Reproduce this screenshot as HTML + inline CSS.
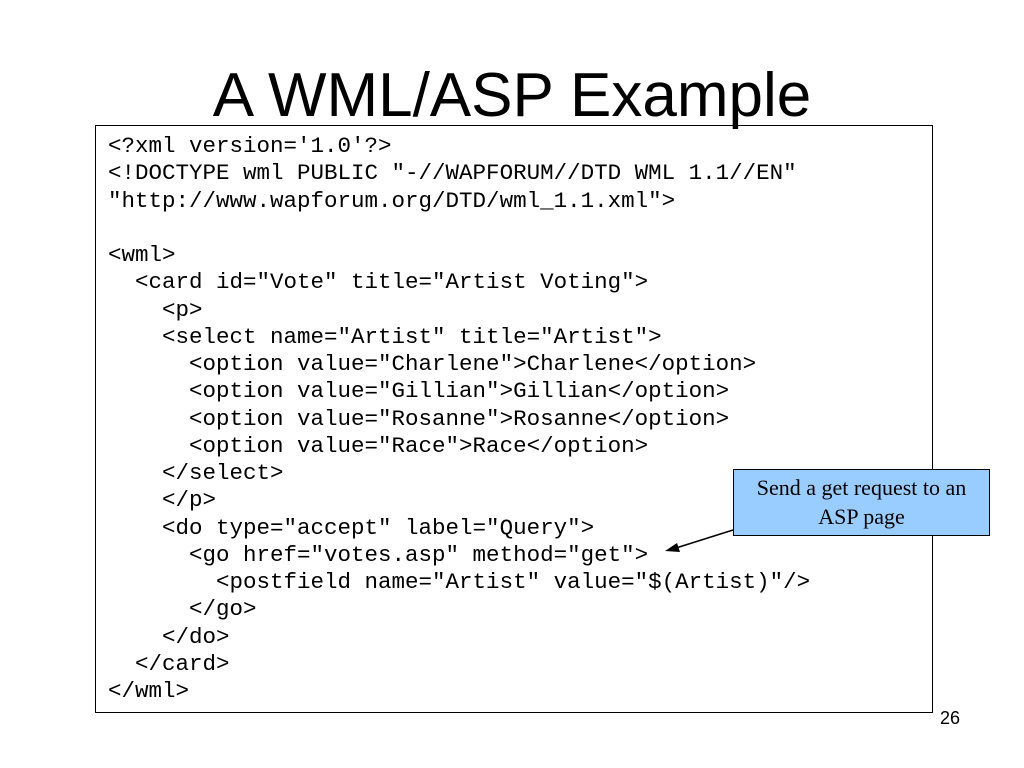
<!DOCTYPE html>
<html><head><meta charset="utf-8"><style>
body{margin:0;width:1024px;height:768px;background:#fff;position:relative;overflow:hidden}
.t{position:absolute;left:0;width:1024px;top:60px;text-align:center;font:62px/72px "Liberation Sans",sans-serif;color:#000}
.box{position:absolute;left:95px;top:125px;width:838px;height:588px;border:1px solid #000;box-sizing:border-box}
pre{position:absolute;left:108px;top:133px;margin:0;font:22.5px/27.25px "Liberation Mono",monospace;color:#000}
.c{position:absolute;left:733px;top:469px;width:257px;height:67px;background:#99ccff;border:1px solid #000;box-sizing:border-box;text-align:center;font:22px/29px "Liberation Serif",serif;padding-top:3px;white-space:nowrap}
.n{position:absolute;left:940px;top:708px;font:18px "Liberation Sans",sans-serif}
</style></head><body>
<div class="t">A WML/ASP Example</div>
<div class="box"></div>
<pre>&lt;?xml version='1.0'?&gt;
&lt;!DOCTYPE wml PUBLIC "-//WAPFORUM//DTD WML 1.1//EN"
"http://www.wapforum.org/DTD/wml_1.1.xml"&gt;

&lt;wml&gt;
  &lt;card id="Vote" title="Artist Voting"&gt;
    &lt;p&gt;
    &lt;select name="Artist" title="Artist"&gt;
      &lt;option value="Charlene"&gt;Charlene&lt;/option&gt;
      &lt;option value="Gillian"&gt;Gillian&lt;/option&gt;
      &lt;option value="Rosanne"&gt;Rosanne&lt;/option&gt;
      &lt;option value="Race"&gt;Race&lt;/option&gt;
    &lt;/select&gt;
    &lt;/p&gt;
    &lt;do type="accept" label="Query"&gt;
      &lt;go href="votes.asp" method="get"&gt;
        &lt;postfield name="Artist" value="$(Artist)"/&gt;
      &lt;/go&gt;
    &lt;/do&gt;
  &lt;/card&gt;
&lt;/wml&gt;</pre>
<div class="c">Send a get request to an<br>ASP page</div>
<svg style="position:absolute;left:0;top:0" width="1024" height="768">
<line x1="733" y1="530" x2="676" y2="548" stroke="#000" stroke-width="1.5"/>
<polygon points="665,551 677,543 680,552" fill="#000"/>
</svg>
<div class="n">26</div>
</body></html>
